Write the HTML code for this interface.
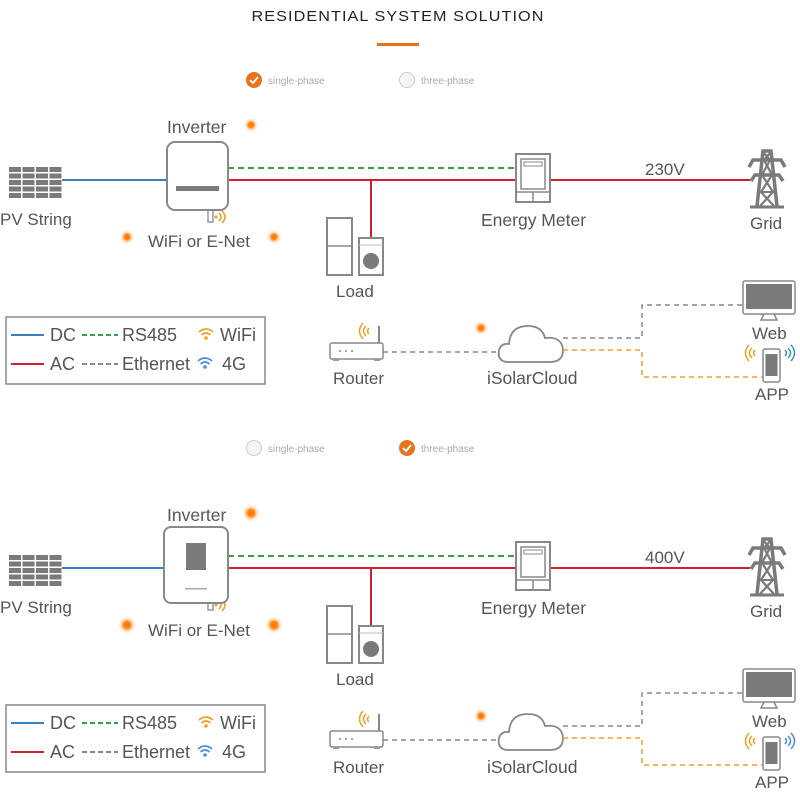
<!DOCTYPE html>
<html><head><meta charset="utf-8"><style>
html,body{margin:0;padding:0;background:#fff}
svg{display:block}
text{font-family:"Liberation Sans",sans-serif;fill:#555}
</style></head><body>
<svg width="800" height="800" viewBox="0 0 800 800" xmlns="http://www.w3.org/2000/svg">
<defs>
<radialGradient id="glow" cx="0.5" cy="0.5" r="0.5">
<stop offset="0" stop-color="#ff6a00"/><stop offset="0.35" stop-color="#ff8a1a"/><stop offset="0.6" stop-color="#ffc890" stop-opacity="0.6"/><stop offset="1" stop-color="#fff" stop-opacity="0"/>
</radialGradient>
<g id="panel" fill="#7a7a7a">
<rect x="9" y="0" width="12" height="5"/><rect x="22.5" y="0" width="12" height="5"/><rect x="36" y="0" width="12" height="5"/><rect x="49.5" y="0" width="12" height="5"/>
<rect x="9" y="6.5" width="12" height="5"/><rect x="22.5" y="6.5" width="12" height="5"/><rect x="36" y="6.5" width="12" height="5"/><rect x="49.5" y="6.5" width="12" height="5"/>
<rect x="9" y="13" width="12" height="5"/><rect x="22.5" y="13" width="12" height="5"/><rect x="36" y="13" width="12" height="5"/><rect x="49.5" y="13" width="12" height="5"/>
<rect x="9" y="19.5" width="12" height="5"/><rect x="22.5" y="19.5" width="12" height="5"/><rect x="36" y="19.5" width="12" height="5"/><rect x="49.5" y="19.5" width="12" height="5"/>
<rect x="9" y="26" width="12" height="5"/><rect x="22.5" y="26" width="12" height="5"/><rect x="36" y="26" width="12" height="5"/><rect x="49.5" y="26" width="12" height="5"/>
</g>
<g id="common">
<line x1="62" y1="180" x2="167" y2="180" stroke="#3a7fbf" stroke-width="2"/>
<line x1="228" y1="168" x2="515" y2="168" stroke="#3aa043" stroke-width="2" stroke-dasharray="6,4"/>
<line x1="228" y1="180" x2="750" y2="180" stroke="#d0202e" stroke-width="2"/>
<line x1="371" y1="180" x2="371" y2="238" stroke="#d0202e" stroke-width="2"/>
<rect x="327" y="218" width="25" height="57" fill="#fff" stroke="#888" stroke-width="2"/>
<line x1="327" y1="246" x2="352" y2="246" stroke="#888" stroke-width="1.5"/>
<rect x="359" y="238" width="24" height="37" fill="#fff" stroke="#888" stroke-width="2"/>
<line x1="359" y1="245" x2="383" y2="245" stroke="#bbb" stroke-width="1"/>
<circle cx="371" cy="261" r="8" fill="#7a7a7a"/>
<rect x="516" y="154" width="34" height="48" fill="#fff" stroke="#888" stroke-width="2"/>
<rect x="521" y="159" width="24" height="30" fill="none" stroke="#888" stroke-width="1.5"/>
<rect x="524" y="162" width="18" height="4" fill="none" stroke="#888" stroke-width="1"/>
<line x1="516" y1="192" x2="550" y2="192" stroke="#888" stroke-width="1.5"/>
<line x1="533" y1="192" x2="533" y2="202" stroke="#888" stroke-width="1.5"/>
<!-- tower -->
<g stroke="#7a7a7a" fill="none">
<path d="M757 206 L763 151 L771 151 L777 206" stroke-width="3.5"/>
<line x1="750" y1="207" x2="784" y2="207" stroke-width="3"/>
<path d="M749 167 L753 160 H781 L785 167" stroke-width="3.5"/>
<path d="M751 181 L755 175 H779 L783 181" stroke-width="3.5"/>
<path d="M764 160 L772 175 L761 192 L774 206 M770 160 L762 175 L773 192 L760 206 M764 153 L770 160 M770 153 L764 160" stroke-width="2.2"/>
<line x1="759" y1="192" x2="775" y2="192" stroke-width="2"/>
</g>
<rect x="6" y="317" width="259" height="67" fill="#fff" stroke="#888" stroke-width="1.5"/>
<line x1="11" y1="335" x2="44" y2="335" stroke="#3a7fbf" stroke-width="2"/>
<line x1="11" y1="364" x2="44" y2="364" stroke="#d0202e" stroke-width="2"/>
<line x1="82" y1="335" x2="118" y2="335" stroke="#3aa043" stroke-width="2" stroke-dasharray="5,3"/>
<line x1="82" y1="364" x2="118" y2="364" stroke="#888" stroke-width="2" stroke-dasharray="5,3"/>
<g fill="none" stroke="#f0a020" stroke-width="1.6">
<path d="M199 332 Q206 326 213 332"/><path d="M201.5 335 Q206 331 210.5 335"/><circle cx="206" cy="338" r="1" fill="#f0a020"/>
</g>
<g fill="none" stroke="#4a8ed0" stroke-width="1.6">
<path d="M198 361 Q205 355 212 361"/><path d="M200.5 364 Q205 360 209.5 364"/><circle cx="205" cy="367" r="1" fill="#4a8ed0"/>
</g>
<rect x="330" y="343" width="53" height="16" rx="2" fill="#fff" stroke="#888" stroke-width="1.5"/>
<line x1="379" y1="343" x2="379" y2="326" stroke="#888" stroke-width="2"/>
<circle cx="340" cy="351" r="1" fill="#888"/><circle cx="346" cy="351" r="1" fill="#888"/><circle cx="352" cy="351" r="1" fill="#888"/>
<rect x="333" y="359" width="6" height="2" fill="#999"/><rect x="374" y="359" width="6" height="2" fill="#999"/>
<g fill="none" stroke="#f0a020" stroke-width="1.5"><path d="M366 326 Q361 331 366 336"/><path d="M369 328 Q366 331 369 334"/><path d="M363 323 Q356 331 363 339"/></g>
<line x1="383" y1="352" x2="500" y2="352" stroke="#888" stroke-width="1.5" stroke-dasharray="5,4"/>
<path d="M507 362 Q497 361 499 350 Q501 343 509 344 Q510 326 528 326 Q542 326 545 338 Q562 336 563 350 Q563 362 550 362 Z" fill="#fff" stroke="#888" stroke-width="1.8"/>
<path d="M563 338 H642 V305 H742" fill="none" stroke="#888" stroke-width="1.5" stroke-dasharray="5,4"/>
<path d="M563 350 H642 V377 H763" fill="none" stroke="#f0a020" stroke-width="1.5" stroke-dasharray="5,4"/>
<rect x="743" y="281" width="52" height="33" rx="2" fill="#fff" stroke="#888" stroke-width="1.5"/>
<rect x="746" y="284" width="46" height="25" fill="#7a7a7a"/>
<path d="M764 314 L761 320 H777 L774 314" fill="none" stroke="#888" stroke-width="1.5"/>
<rect x="763" y="349" width="17" height="33" rx="2" fill="#fff" stroke="#888" stroke-width="1.5"/>
<rect x="765.5" y="354" width="12" height="22" fill="#7a7a7a"/>
<g fill="none" stroke="#f0a020" stroke-width="1.5"><path d="M752 348 Q747 353 752 358"/><path d="M755 350 Q752 353 755 356"/><path d="M749 345 Q742 353 749 361"/></g>
<g fill="none" stroke="#4a8ed0" stroke-width="1.5"><path d="M788 348 Q793 353 788 358"/><path d="M785 350 Q788 353 785 356"/><path d="M791 345 Q798 353 791 361"/></g>
<rect x="208" y="210" width="5" height="12" fill="#fff" stroke="#888" stroke-width="1.3"/>
<g fill="none" stroke="#f0a020" stroke-width="1.5"><path d="M219 213 Q223 217 219 221"/><path d="M222 211 Q228 217 222 223"/><circle cx="216" cy="217" r="0.8" fill="#f0a020"/></g>
<circle cx="481" cy="328" r="8" fill="url(#glow)"/>
</g>
</defs>

<text x="398" y="21" text-anchor="middle" font-size="15" textLength="293" lengthAdjust="spacingAndGlyphs" style="fill:#222;letter-spacing:1px">RESIDENTIAL SYSTEM SOLUTION</text>
<rect x="377" y="43" width="42" height="3" fill="#e8731a"/>

<circle cx="254" cy="80" r="8" fill="#e8731a"/>
<path d="M250 80 L253 83 L258 77" fill="none" stroke="#fff" stroke-width="1.8"/>
<text x="268" y="84" font-size="10" style="fill:#aaa">single-phase</text>
<circle cx="407" cy="80" r="7.5" fill="#f4f4f4" stroke="#ccc" stroke-width="1"/>
<text x="421" y="84" font-size="10" style="fill:#aaa">three-phase</text>

<use href="#panel" y="167"/>
<use href="#common"/>
<rect x="167" y="142" width="61" height="68" rx="8" fill="#fff" stroke="#888" stroke-width="2"/>
<rect x="176" y="186" width="43" height="5" fill="#7a7a7a"/>
<circle cx="251" cy="125" r="8" fill="url(#glow)"/>
<circle cx="127" cy="237" r="8" fill="url(#glow)"/>
<circle cx="274" cy="237" r="8" fill="url(#glow)"/>
<text x="0" y="225" font-size="17">PV String</text>
<text x="167" y="133" font-size="17.5">Inverter</text>
<text x="148" y="247" font-size="17">WiFi or E-Net</text>
<text x="336" y="297" font-size="17">Load</text>
<text x="481" y="226" font-size="17.5">Energy Meter</text>
<text x="645" y="175" font-size="17">230V</text>
<text x="750" y="229" font-size="17">Grid</text>
<text x="333" y="384" font-size="17">Router</text>
<text x="487" y="384" font-size="17.5">iSolarCloud</text>
<text x="752" y="339" font-size="17">Web</text>
<text x="755" y="400" font-size="17">APP</text>
<text x="50" y="341" font-size="18">DC</text>
<text x="122" y="341" font-size="18">RS485</text>
<text x="220" y="341" font-size="18">WiFi</text>
<text x="50" y="370" font-size="18">AC</text>
<text x="122" y="370" font-size="18">Ethernet</text>
<text x="222" y="370" font-size="18">4G</text>

<circle cx="254" cy="448" r="7.5" fill="#f4f4f4" stroke="#ccc" stroke-width="1"/>
<text x="268" y="452" font-size="10" style="fill:#aaa">single-phase</text>
<circle cx="407" cy="448" r="8" fill="#e8731a"/>
<path d="M403 448 L406 451 L411 445" fill="none" stroke="#fff" stroke-width="1.8"/>
<text x="421" y="452" font-size="10" style="fill:#aaa">three-phase</text>

<g transform="translate(0,388)">
<use href="#panel" y="167"/>
<use href="#common"/>
<rect x="164" y="139" width="64" height="76" rx="7" fill="#fff" stroke="#888" stroke-width="2"/>
<rect x="186" y="155" width="20" height="27" fill="#7a7a7a"/>
<rect x="185" y="200" width="22" height="1.5" fill="#aaa"/>
<circle cx="251" cy="125" r="10" fill="url(#glow)"/>
<circle cx="127" cy="237" r="10" fill="url(#glow)"/>
<circle cx="274" cy="237" r="10" fill="url(#glow)"/>
<text x="0" y="225" font-size="17">PV String</text>
<text x="167" y="133" font-size="17.5">Inverter</text>
<text x="148" y="248" font-size="17">WiFi or E-Net</text>
<text x="336" y="297" font-size="17">Load</text>
<text x="481" y="226" font-size="17.5">Energy Meter</text>
<text x="645" y="175" font-size="17">400V</text>
<text x="750" y="229" font-size="17">Grid</text>
<text x="333" y="385" font-size="17">Router</text>
<text x="487" y="385" font-size="17.5">iSolarCloud</text>
<text x="752" y="339" font-size="17">Web</text>
<text x="755" y="400" font-size="17">APP</text>
<text x="50" y="341" font-size="18">DC</text>
<text x="122" y="341" font-size="18">RS485</text>
<text x="220" y="341" font-size="18">WiFi</text>
<text x="50" y="370" font-size="18">AC</text>
<text x="122" y="370" font-size="18">Ethernet</text>
<text x="222" y="370" font-size="18">4G</text>
</g>
</svg>
</body></html>
